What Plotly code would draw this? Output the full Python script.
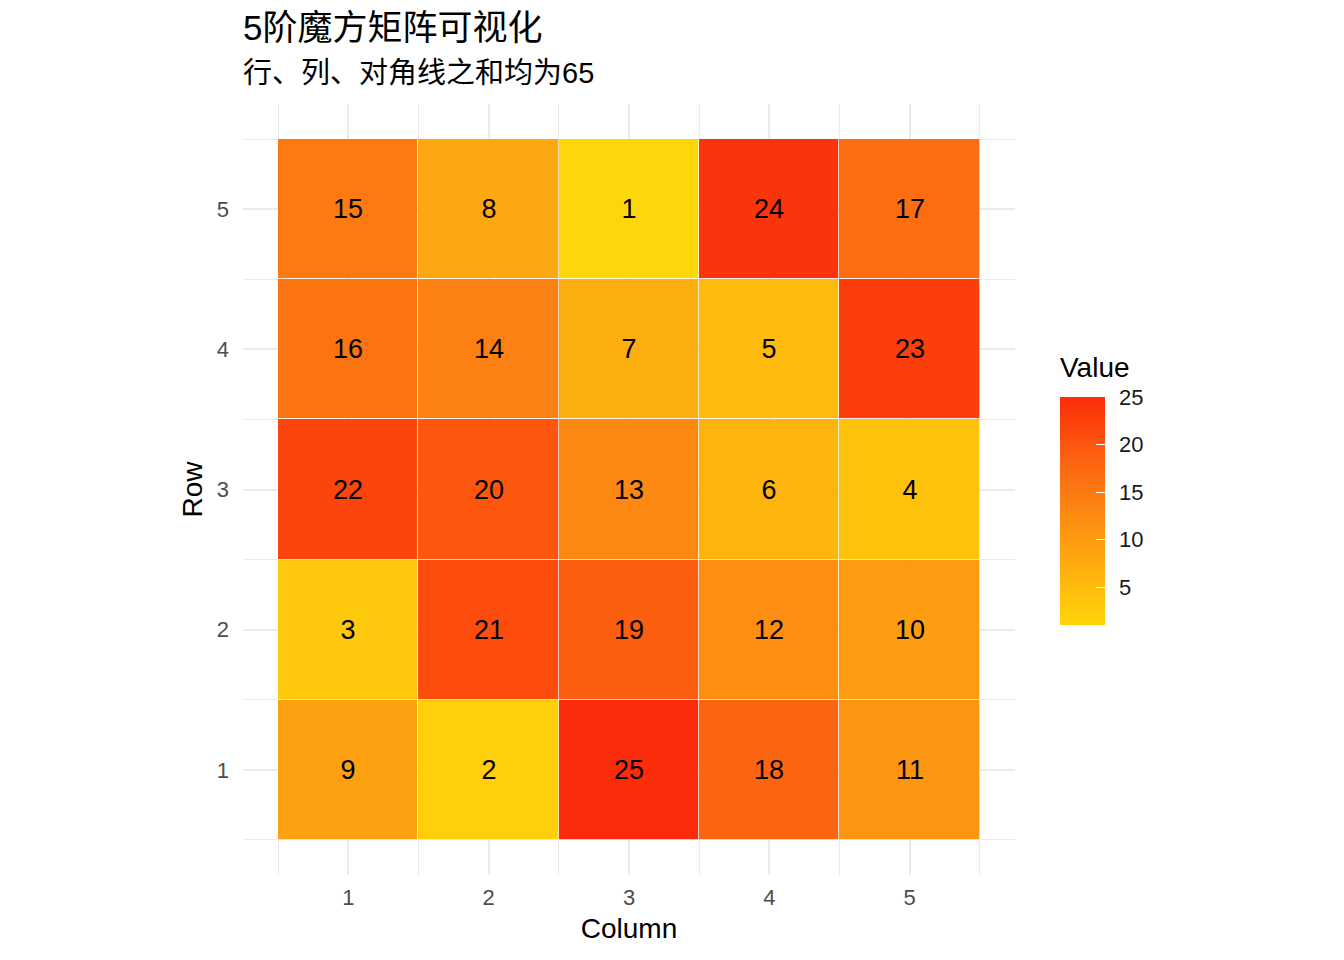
import plotly.graph_objects as go

# Data (rows listed from 1 at bottom to 5 at top)
columns = [1, 2, 3, 4, 5]
rows = [1, 2, 3, 4, 5]
row1 = [9, 2, 25, 18, 11]
row2 = [3, 21, 19, 12, 10]
row3 = [22, 20, 13, 6, 4]
row4 = [16, 14, 7, 5, 23]
row5 = [15, 8, 1, 24, 17]
values = [row1, row2, row3, row4, row5]
legend_ticks = [5, 10, 15, 20, 25]

title = "5阶魔方矩阵可视化"
subtitle = "行、列、对角线之和均为65"
legend_title = "Value"

FONT = "Liberation Sans, Noto Sans CJK SC, sans-serif"

colorscale = [
    [0.0, "#FFD60A"],
    [0.25, "#FDAE0F"],
    [0.5, "#FC8812"],
    [0.75, "#FC5E10"],
    [1.0, "#FC2C0A"],
]

cb_common = dict(
    x=1.058,
    xanchor="left",
    xref="paper",
    xpad=0,
    ypad=0,
    y=0.472,
    yanchor="middle",
    len=228,
    lenmode="pixels",
    thickness=45,
    thicknessmode="pixels",
    outlinewidth=0,
    tickvals=legend_ticks,
)

fig = go.Figure()
# colorbar carrying the labels (transparent outside ticks give the label gap)
fig.add_trace(
    go.Heatmap(
        x=columns, y=rows, z=values, zmin=1, zmax=25,
        colorscale=colorscale, xgap=1, ygap=1,
        hoverinfo="skip",
        colorbar=dict(
            **cb_common,
            ticks="outside",
            ticklen=10,
            tickcolor="rgba(0,0,0,0)",
            tickfont=dict(size=22, color="#1A1A1A", family=FONT),
        ),
    )
)
# main layer with cell labels and the white inside tick marks
fig.add_trace(
    go.Heatmap(
        x=columns, y=rows, z=values, zmin=1, zmax=25,
        colorscale=colorscale, xgap=1, ygap=1,
        texttemplate="%{z}",
        textfont=dict(size=27, color="black", family=FONT),
        hoverinfo="x+y+z",
        colorbar=dict(
            **cb_common,
            ticks="inside",
            ticklen=9,
            tickcolor="white",
            showticklabels=False,
        ),
    )
)

fig.update_xaxes(
    range=[0.25, 5.75],
    tickvals=columns,
    ticktext=[str(c) for c in columns],
    ticks="",
    ticklabelstandoff=7,
    zeroline=False,
    showline=False,
    tickfont=dict(size=22, color="#4D4D4D", family=FONT),
    title=dict(text="Column", font=dict(size=28, color="black", family=FONT), standoff=9),
    showgrid=True,
    gridcolor="#EBEBEB",
    gridwidth=2,
    minor=dict(tickvals=[0.5, 1.5, 2.5, 3.5, 4.5, 5.5], showgrid=True, gridcolor="#EBEBEB", gridwidth=1, ticks=""),
)
fig.update_yaxes(
    range=[0.25, 5.75],
    tickvals=rows,
    ticktext=[str(r) for r in rows],
    ticks="",
    ticklabelstandoff=13,
    zeroline=False,
    showline=False,
    tickfont=dict(size=22, color="#4D4D4D", family=FONT),
    title=dict(text="Row", font=dict(size=28, color="black", family=FONT), standoff=5),
    showgrid=True,
    gridcolor="#EBEBEB",
    gridwidth=2,
    minor=dict(tickvals=[0.5, 1.5, 2.5, 3.5, 4.5, 5.5], showgrid=True, gridcolor="#EBEBEB", gridwidth=1, ticks=""),
)

fig.update_layout(
    width=1344,
    height=960,
    margin=dict(l=243, r=329, t=104, b=85, autoexpand=False),
    plot_bgcolor="white",
    paper_bgcolor="white",
    font=dict(family=FONT),
    annotations=[
        dict(text=title, xref="paper", yref="paper", x=0, y=1.0986, xanchor="left", yanchor="middle",
             xshift=-2, showarrow=False, font=dict(size=35, color="black", family=FONT)),
        dict(text=subtitle, xref="paper", yref="paper", x=0, y=1.0402, xanchor="left", yanchor="middle",
             xshift=-2, showarrow=False, font=dict(size=29, color="black", family=FONT)),
        dict(text=legend_title, xref="paper", yref="paper", x=1.058, y=0.6576, xanchor="left", yanchor="middle",
             xshift=-2, showarrow=False, font=dict(size=28, color="black", family=FONT)),
    ],
)

fig.write_html("out.html")
